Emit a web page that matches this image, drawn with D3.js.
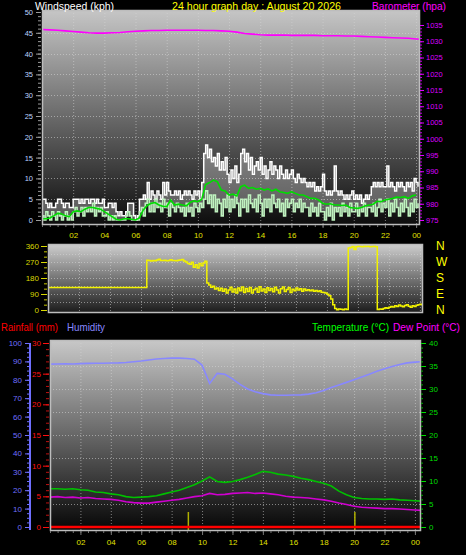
<!DOCTYPE html>
<html><head><meta charset="utf-8">
<script src="https://cdn.jsdelivr.net/npm/d3@7"></script>
<style>html,body{margin:0;padding:0;background:#000;overflow:hidden}svg{display:block}text{font-family:"Liberation Sans",Arial,sans-serif}</style>
</head><body><svg id="c" width="466" height="555"></svg>
<script>
// ---------------- DATA ----------------
const hourTicks = [2,4,6,8,10,12,14,16,18,20,22,24];
const hourLabels = ["02","04","06","08","10","12","14","16","18","20","22","00"];
const windTicks = [0,5,10,15,20,25,30,35,40,45,50];
const baroTicks = [975,980,985,990,995,1000,1005,1010,1015,1020,1025,1030,1035];
const dirTicks = [0,90,180,270,360];
const dirLabels = ["N","E","S","W","N"];
const humTicks = [0,10,20,30,40,50,60,70,80,90,100];
const rainTicks = [0,5,10,15,20,25,30];
const tempTicks = [0,5,10,15,20,25,30,35,40];

// wind samples every 1/8 hour (kph)
const windGust = [
5,5,4,3,4,3,3,4, 5,5,4,3,4,4,3,3, 5,5,5,4,5,4,5,5, 4,5,5,4,5,4,4,5,
3,3,4,4,3,4,2,1, 2,1,1,2,4,4,4,1, 0,1,5,5,6,5,9,5, 7,6,5,7,6,5,9,6,
9,7,6,6,7,6,7,5, 6,7,6,7,6,5,7,6, 7,5,9,16,18,15,17,14, 15,13,16,12,14,12,15,11,
9,12,10,13,9,11,16,17, 14,16,12,15,11,13,14,12, 15,11,13,10,12,14,11,13, 12,10,13,11,10,12,10,11,
12,10,9,11,10,9,10,9, 8,9,8,9,7,8,7,8, 11,7,6,7,6,7,13,7, 6,7,6,5,6,5,6,7,
5,6,5,6,4,5,6,5, 6,8,9,8,9,8,9,8, 8,13,8,9,8,7,9,8, 9,8,7,9,8,9,7,10, 9,8];
const windSpeed = [
1,0,2,1,0,2,1,0, 2,1,0,1,2,0,1,0, 2,3,1,2,3,1,3,2, 3,2,4,1,3,2,3,1,
1,2,0,1,0,1,0,0, 0,0,0,1,2,1,0,0, 0,0,2,3,1,4,5,2, 4,2,5,3,4,2,5,3,
4,1,4,3,2,4,3,2, 3,1,4,2,3,1,4,3, 2,4,3,5,7,4,6,3, 6,2,5,4,1,5,3,6,
2,5,3,6,4,1,5,3, 5,2,6,4,3,5,2,6, 4,1,5,3,5,2,6,4, 3,5,2,4,1,5,3,4,
5,2,4,3,5,2,4,3, 3,1,4,2,3,1,4,2, 2,0,3,1,4,0,3,2, 3,1,4,2,3,1,4,2,
2,4,1,3,2,4,1,3, 3,2,4,1,3,5,2,4, 3,5,1,4,2,5,3,1, 4,2,5,3,1,4,2,5, 3,4];
// average wind every 1/4 hour
const windAvg = [
0.3,0.3,0.5,1.0, 1.6,1.5,1.0,0.8, 2.0,2.2,2.0,2.6, 3.0,3.0,2.8,2.6,
2.0,1.4,0.8,0.2, 0.0,0.3,0.3,0.2, 0.0,0.5,2.4,3.5, 4.0,4.2,3.6,3.3,
3.2,4.8,3.6,3.8, 3.6,3.4,4.2,4.6, 4.4,5.0,8.5,9.0, 9.6,9.2,7.2,7.0,
6.0,6.2,5.8,8.0, 8.4,7.6,7.8,7.4, 7.6,7.2,7.5,7.0, 7.4,6.8,6.6,6.4,
6.8,6.4,6.0,6.0, 5.6,5.2,5.2,4.8, 4.0,3.8,3.9,3.6, 3.6,3.5,3.6,3.0,
2.9,2.8,3.0,3.4, 3.6,3.8,4.5,4.4, 4.8,5.0,5.2,5.5, 5.4,5.6,5.2,5.8, 6.0];
// barometer every 1/2 hour (hPa)
const barometer = [
1033.6,1033.5,1033.4,1033.2,1033.0,1032.8,1032.6,1032.5,1032.5,1032.6,
1032.7,1032.9,1033.1,1033.2,1033.3,1033.3,1033.4,1033.4,1033.4,1033.4,
1033.4,1033.3,1033.3,1033.2,1033.1,1032.8,1032.4,1032.2,1032.0,1031.9,
1031.9,1031.9,1031.8,1031.8,1031.8,1031.8,1031.7,1031.7,1031.7,1031.6,
1031.6,1031.5,1031.4,1031.3,1031.2,1031.1,1031.0,1030.9,1030.7,1030.6];
// wind direction every 1/8 hour (degrees)
const windDir = [
127,127,127,127,127,127,127,127, 127,127,127,127,127,127,127,127, 127,127,127,127,127,127,127,127,
127,127,127,127,127,127,127,127, 127,127,127,127,127,127,127,127, 127,127,127,127,127,127,127,127,
127,127,127,280,278,276,279,277, 281,285,279,278,280,277,279,282, 278,279,277,280,281,284,276,270,
262,258,268,241,255,236,262,249, 265,274,152,140,128,133,118,124, 110,122,105,118,95,112,128,101,
118,96,124,108,130,99,121,104, 127,95,114,122,100,131,107,118, 98,125,110,121,102,128,113,96,
119,130,104,115,126,99,117,108, 124,112,120,105,118,110,114,108, 112,106,110,104,108,100,98,95,
88,80,62,30,8,2,5,4, 2,6,3,349,352,357,340,356, 358,357,356,358,357,359,356,357,
358,356,3,6,4,8,12,10, 15,20,17,24,19,28,22,18, 25,30,21,16,24,20,27,29, 32,25];
// every 1/2 hour
const humidity = [
88.5,88.6,88.7,88.6,88.8,88.9,89.0,89.0,89.1,89.2,
89.4,89.8,90.2,90.8,91.3,91.6,91.8,91.8,91.6,91.2,
88.0,78.0,83.5,83.0,80.5,77.5,75.0,73.5,72.5,71.8,
71.6,71.6,71.7,71.8,72.2,73.0,74.2,75.8,77.2,78.6,
80.0,81.5,83.0,84.6,86.0,87.2,88.3,89.2,89.6,89.9];
const temperature = [
8.3,8.3,8.2,8.3,8.1,8.0,7.6,7.5,7.2,7.0,
6.6,6.4,6.5,6.6,6.8,7.2,7.6,8.0,8.6,9.2,
10.0,10.9,9.9,9.7,9.9,10.3,10.8,11.4,12.1,11.9,
11.5,11.3,11.0,10.6,10.3,9.9,9.5,8.9,7.8,7.0,
6.4,6.2,6.1,6.1,6.0,6.1,5.9,5.8,5.7,5.6];
const dewPoint = [
6.5,6.6,6.4,6.5,6.3,6.4,6.2,6.1,6.0,5.8,
5.5,5.3,5.2,5.2,5.4,5.6,5.8,6.0,6.3,6.6,
6.8,7.3,7.0,7.1,7.3,7.4,7.5,7.3,7.4,7.2,
7.0,6.7,6.5,6.4,6.3,6.1,5.9,5.6,5.2,4.9,
4.5,4.3,4.2,4.1,4.0,4.0,3.9,3.8,3.7,3.6];
const rainfall = [0,0,0,0,0,0,0,0,0,0,0,0,0,0,0,0,0,0,0,0,0,0,0,0,0,
0,0,0,0,0,0,0,0,0,0,0,0,0,0,0,0,0,0,0,0,0,0,0,0,0];
const rainMarkHours = [9.1, 20.05];

// ---------------- DRAW ----------------
const svg = d3.select("#c");
svg.append("rect").attr("width",466).attr("height",555).attr("fill","#000");
const defs = svg.append("defs");
function mkGrad(id, c0, c1){
  const g = defs.append("linearGradient").attr("id",id).attr("x1",0).attr("y1",0).attr("x2",0).attr("y2",1);
  g.append("stop").attr("offset","0%").attr("stop-color",c0);
  g.append("stop").attr("offset","100%").attr("stop-color",c1);
}
mkGrad("gTop","#c6c6c6","#0c0c0c");
mkGrad("gMid","#cfcfcf","#1a1a1a");
mkGrad("gBot","#c8c8c8","#050505");

const ser = (arr, step) => arr.map((v,i)=>[i*step, v]);
const gridCol = "rgba(215,215,215,0.55)";

function panel(id, x0, y0, x1, y1, grad){
  defs.append("clipPath").attr("id",id).append("rect").attr("x",x0).attr("y",y0).attr("width",x1-x0).attr("height",y1-y0);
  svg.append("rect").attr("x",x0).attr("y",y0).attr("width",x1-x0).attr("height",y1-y0).attr("fill",`url(#${grad})`);
  return svg.append("g").attr("clip-path",`url(#${id})`);
}
function frame(x0,y0,x1,y1){
  svg.append("rect").attr("x",x0+0.5).attr("y",y0+0.5).attr("width",x1-x0-1).attr("height",y1-y0-1)
    .attr("fill","none").attr("stroke","#bdbdbd").attr("stroke-width",1.5);
}
function vgrid(g, xs, y0, y1){
  hourTicks.forEach(h=>{ g.append("line").attr("x1",xs(h)+0.5).attr("x2",xs(h)+0.5).attr("y1",y0).attr("y2",y1)
    .attr("stroke",gridCol).attr("stroke-dasharray","1,2"); });
}
function hgrid(g, ys, vals, x0, x1){
  vals.forEach(v=>{ g.append("line").attr("x1",x0).attr("x2",x1).attr("y1",Math.round(ys(v))+0.5).attr("y2",Math.round(ys(v))+0.5)
    .attr("stroke",gridCol).attr("stroke-dasharray","1,2"); });
}
function styleAxis(sel, col, fs, lineCol){
  sel.select(".domain").remove();
  sel.selectAll("line").attr("stroke",lineCol||col);
  sel.selectAll("text").attr("fill",col).attr("font-size",fs).attr("font-family","'Liberation Sans',Arial,sans-serif");
}
function minor(axisFn, vals, x, y, col, size){
  const g = svg.append("g").attr("transform",`translate(${x},${y})`).call(axisFn.tickValues(vals).tickSize(size).tickFormat(""));
  g.select(".domain").remove(); g.selectAll("line").attr("stroke",col);
}
const range = (a,b,s)=>d3.range(a,b+s/2,s);
const hourFmt = (d,i)=>hourLabels[i];
const intFmt = d3.format("d");

// ===== TOP: wind + barometer =====
const T = {x0:42, x1:420, y0:10, y1:225};
const xTop = d3.scaleLinear().domain([0,24.25]).range([T.x0, T.x1]);
const yWind = d3.scaleLinear().domain([0,50]).range([220,12]);
const yBaro = d3.scaleLinear().domain([975,1035]).range([220,25]);
const gTop = panel("clipTop", T.x0, T.y0, T.x1, T.y1, "gTop");
vgrid(gTop, xTop, T.y0, T.y1);
hgrid(gTop, yWind, windTicks.slice(1,-1), T.x0, T.x1);

const gustPts = ser(windGust, 0.125), spdPts = ser(windSpeed, 0.125);
gTop.append("path").datum(gustPts.map((p,i)=>[p[0],p[1],spdPts[i][1]]))
  .attr("d", d3.area().curve(d3.curveStepAfter).x(d=>xTop(d[0])).y0(d=>yWind(d[2])).y1(d=>yWind(d[1])))
  .attr("fill","rgba(255,255,255,0.3)");
gTop.append("path").datum(gustPts)
  .attr("d", d3.line().curve(d3.curveStepAfter).x(d=>xTop(d[0])).y(d=>yWind(d[1])))
  .attr("fill","none").attr("stroke","#ffffff").attr("stroke-width",1.5);
gTop.append("path").datum(spdPts)
  .attr("d", d3.line().curve(d3.curveStepAfter).x(d=>xTop(d[0])).y(d=>yWind(d[1])))
  .attr("fill","none").attr("stroke","#bff2bf").attr("stroke-width",1.6);
gTop.append("path").datum(ser(windAvg,0.25))
  .attr("d", d3.line().x(d=>xTop(d[0])).y(d=>yWind(d[1])))
  .attr("fill","none").attr("stroke","#00dd00").attr("stroke-width",1.6);
gTop.append("path").datum(ser(barometer,0.5))
  .attr("d", d3.line().x(d=>xTop(d[0])).y(d=>yBaro(d[1])))
  .attr("fill","none").attr("stroke","#ff00ff").attr("stroke-width",1.6);
frame(T.x0, T.y0, T.x1, T.y1);

minor(d3.axisLeft(yWind), range(0,50,1), 41, 0, "#9a9a9a", 3);
styleAxis(svg.append("g").attr("transform","translate(41,0)")
  .call(d3.axisLeft(yWind).tickValues(windTicks).tickSize(5).tickPadding(3)), "#bcd4ff", "7.5px", "#9a9a9a");
minor(d3.axisRight(yBaro), range(975,1035,1), 420, 0, "#c000e0", 2);
styleAxis(svg.append("g").attr("transform","translate(420,0)")
  .call(d3.axisRight(yBaro).tickValues(baroTicks).tickFormat(intFmt).tickSize(4).tickPadding(2)), "#dd00ff", "7.5px");
minor(d3.axisBottom(xTop), range(0,24,0.5), 0, T.y1, "#777", 2);
styleAxis(svg.append("g").attr("transform",`translate(0,${T.y1})`)
  .call(d3.axisBottom(xTop).tickValues(hourTicks).tickFormat(hourFmt).tickSize(3).tickPadding(4)), "#e0e000", "8px", "#777");

svg.append("text").attr("x",35).attr("y",9.5).attr("fill","#ffffff").attr("font-size","11px").attr("textLength",79).attr("lengthAdjust","spacingAndGlyphs").text("Windspeed (kph)");
svg.append("text").attr("x",172).attr("y",9.5).attr("fill","#ffff00").attr("font-size","11px").attr("textLength",169).attr("lengthAdjust","spacingAndGlyphs").text("24 hour graph day : August 20 2026");
svg.append("text").attr("x",372).attr("y",9.5).attr("fill","#ff00ff").attr("font-size","11px").attr("textLength",74).attr("lengthAdjust","spacingAndGlyphs").text("Barometer (hpa)");

// ===== MIDDLE: wind direction =====
const M = {x0:48, x1:423, y0:244, y1:313};
const xMid = d3.scaleLinear().domain([0,24.2]).range([M.x0, M.x1]);
const yDir = d3.scaleLinear().domain([0,360]).range([310,246]);
const gMid = panel("clipMid", M.x0, M.y0, M.x1, M.y1, "gMid");
vgrid(gMid, xMid, M.y0, M.y1);
hgrid(gMid, yDir, [45,90,135,180,225,270,315], M.x0, M.x1);
gMid.append("path").datum(ser(windDir,0.125))
  .attr("d", d3.line().curve(d3.curveStepAfter).x(d=>xMid(d[0])).y(d=>yDir(d[1])))
  .attr("fill","none").attr("stroke","#f2f200").attr("stroke-width",1.5);
frame(M.x0, M.y0, M.x1, M.y1);
minor(d3.axisLeft(yDir), range(0,360,30), 47, 0, "#c8c800", 3);
styleAxis(svg.append("g").attr("transform","translate(47,0)")
  .call(d3.axisLeft(yDir).tickValues(dirTicks).tickSize(6).tickPadding(2)), "#d8d800", "8px");
svg.append("g").selectAll("text").data(dirTicks).join("text")
  .attr("x",436).attr("y",d=>yDir(d)).attr("dy","0.36em").attr("fill","#ffff00").attr("font-size","12px")
  .text((d,i)=>dirLabels[i]);

// ===== BOTTOM: rain, humidity, temp, dew =====
const B = {x0:50, x1:421, y0:340, y1:531};
const xBot = d3.scaleLinear().domain([0,24.4]).range([B.x0, B.x1]);
const yTemp = d3.scaleLinear().domain([0,40]).range([527,343]);
const yHum = d3.scaleLinear().domain([0,100]).range([527,343]);
const yRain = d3.scaleLinear().domain([0,30]).range([527,343]);
const gBot = panel("clipBot", B.x0, B.y0, B.x1, B.y1, "gBot");
vgrid(gBot, xBot, B.y0, B.y1);
hgrid(gBot, yTemp, tempTicks.slice(1,-1), B.x0, B.x1);
gBot.selectAll(".rm").data(rainMarkHours).join("line").attr("class","rm")
  .attr("x1",d=>xBot(d)).attr("x2",d=>xBot(d)).attr("y1",yTemp(0)+4).attr("y2",yTemp(0)-15)
  .attr("stroke","#b0b000").attr("stroke-width",1.5);
gBot.append("path").datum(ser(humidity,0.5))
  .attr("d", d3.line().x(d=>xBot(d[0])).y(d=>yHum(d[1])))
  .attr("fill","none").attr("stroke","#8888ff").attr("stroke-width",1.6);
gBot.append("path").datum(ser(temperature,0.5))
  .attr("d", d3.line().x(d=>xBot(d[0])).y(d=>yTemp(d[1])))
  .attr("fill","none").attr("stroke","#00c000").attr("stroke-width",1.6);
gBot.append("path").datum(ser(dewPoint,0.5))
  .attr("d", d3.line().x(d=>xBot(d[0])).y(d=>yTemp(d[1])))
  .attr("fill","none").attr("stroke","#d000d0").attr("stroke-width",1.6);
gBot.append("path").datum(ser(rainfall,0.5))
  .attr("d", d3.line().x(d=>xBot(d[0])).y(d=>yRain(d[1])))
  .attr("fill","none").attr("stroke","#ff0000").attr("stroke-width",2.5);
frame(B.x0, B.y0, B.x1, B.y1);

svg.append("line").attr("x1",30).attr("x2",30).attr("y1",yHum(100)).attr("y2",yHum(0)+3).attr("stroke","#6f6fff").attr("stroke-width",2);
minor(d3.axisLeft(yHum), range(0,100,2.5), 29, 0, "#6f6fff", 2);
styleAxis(svg.append("g").attr("transform","translate(29,0)")
  .call(d3.axisLeft(yHum).tickValues(humTicks).tickSize(4).tickPadding(3)), "#6f6fff", "8px");
minor(d3.axisLeft(yRain), range(0,30,1), 49, 0, "#c01010", 3);
styleAxis(svg.append("g").attr("transform","translate(49,0)")
  .call(d3.axisLeft(yRain).tickValues(rainTicks).tickSize(6).tickPadding(2)), "#ff1010", "8px");
minor(d3.axisRight(yTemp), range(0,40,1), 421, 0, "#00b000", 2);
styleAxis(svg.append("g").attr("transform","translate(421,0)")
  .call(d3.axisRight(yTemp).tickValues(tempTicks).tickSize(5).tickPadding(3)), "#00dd00", "8px");
minor(d3.axisBottom(xBot), range(0,24,0.5), 0, B.y1, "#777", 2);
styleAxis(svg.append("g").attr("transform",`translate(0,${B.y1})`)
  .call(d3.axisBottom(xBot).tickValues(hourTicks).tickFormat(hourFmt).tickSize(4).tickPadding(4)), "#e0e000", "8px", "#777");

svg.append("text").attr("x",1).attr("y",331).attr("fill","#ff0000").attr("font-size","11.5px").attr("textLength",57).attr("lengthAdjust","spacingAndGlyphs").text("Rainfall (mm)");
svg.append("text").attr("x",67).attr("y",331).attr("fill","#8888ff").attr("font-size","11.5px").attr("textLength",38).attr("lengthAdjust","spacingAndGlyphs").text("Humidity");
svg.append("text").attr("x",312).attr("y",331).attr("fill","#00ff00").attr("font-size","10.5px").attr("textLength",77).attr("lengthAdjust","spacingAndGlyphs").text("Temperature (°C)");
svg.append("text").attr("x",393).attr("y",331).attr("fill","#ff00ff").attr("font-size","10.5px").attr("textLength",67).attr("lengthAdjust","spacingAndGlyphs").text("Dew Point (°C)");
</script></body></html>
